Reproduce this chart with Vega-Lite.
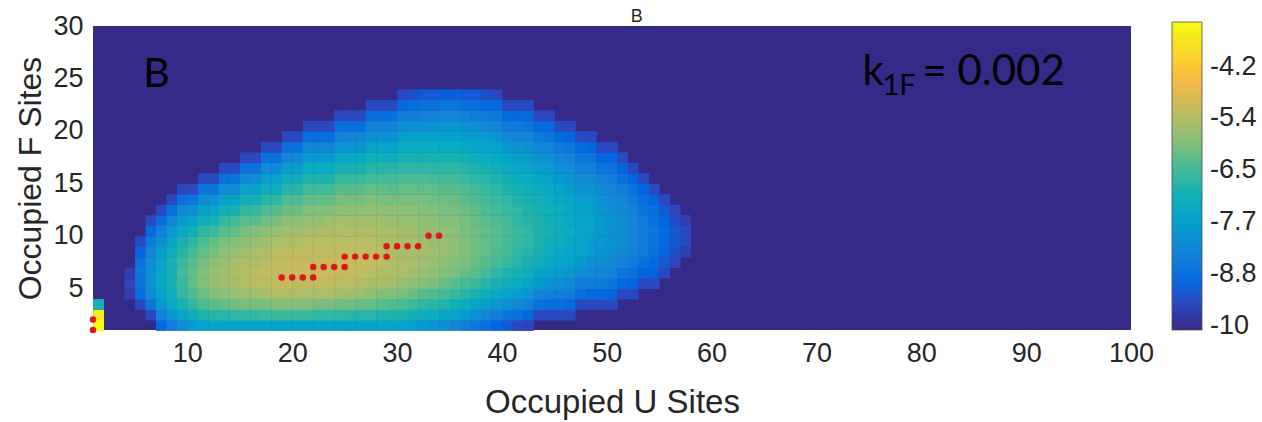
{
"$schema": "https://vega.github.io/schema/vega-lite/v6.json",
"width": 1038,
"height": 304,
"autosize": {"type": "none"},
"padding": {"left": 93, "top": 26, "right": 131, "bottom": 92},
"background": "white",
"config": {"view": {"fill": "#352A87", "stroke": null}, "font": "Liberation Sans"},
"datasets": {
"cells": [
{"u":1,"f":1,"v":-3.2},{"u":1,"f":2,"v":-3.4},{"u":1,"f":3,"v":-7.0},
{"u":4,"f":4,"v":-9.7},{"u":4,"f":5,"v":-9.6},{"u":4,"f":6,"v":-9.7},
{"u":5,"f":3,"v":-9.5},{"u":5,"f":4,"v":-8.9},{"u":5,"f":5,"v":-8.7},{"u":5,"f":6,"v":-8.7},{"u":5,"f":7,"v":-8.8},{"u":5,"f":8,"v":-9.1},{"u":5,"f":9,"v":-9.5},
{"u":6,"f":2,"v":-9.5},{"u":6,"f":3,"v":-8.7},{"u":6,"f":4,"v":-8.2},{"u":6,"f":5,"v":-8.0},{"u":6,"f":6,"v":-8.0},{"u":6,"f":7,"v":-8.1},{"u":6,"f":8,"v":-8.3},{"u":6,"f":9,"v":-8.6},{"u":6,"f":10,"v":-9.0},{"u":6,"f":11,"v":-9.5},
{"u":7,"f":1,"v":-9.0},{"u":7,"f":2,"v":-8.4},{"u":7,"f":3,"v":-7.9},{"u":7,"f":4,"v":-7.6},{"u":7,"f":5,"v":-7.4},{"u":7,"f":6,"v":-7.4},{"u":7,"f":7,"v":-7.5},{"u":7,"f":8,"v":-7.7},{"u":7,"f":9,"v":-8.0},{"u":7,"f":10,"v":-8.4},{"u":7,"f":11,"v":-8.9},{"u":7,"f":12,"v":-9.5},
{"u":8,"f":1,"v":-8.5},{"u":8,"f":2,"v":-7.9},{"u":8,"f":3,"v":-7.4},{"u":8,"f":4,"v":-7.1},{"u":8,"f":5,"v":-7.0},{"u":8,"f":6,"v":-7.0},{"u":8,"f":7,"v":-7.0},{"u":8,"f":8,"v":-7.2},{"u":8,"f":9,"v":-7.5},{"u":8,"f":10,"v":-7.8},{"u":8,"f":11,"v":-8.3},{"u":8,"f":12,"v":-8.8},{"u":8,"f":13,"v":-9.5},
{"u":9,"f":1,"v":-8.1},{"u":9,"f":2,"v":-7.5},{"u":9,"f":3,"v":-7.0},{"u":9,"f":4,"v":-6.7},{"u":9,"f":5,"v":-6.6},{"u":9,"f":6,"v":-6.5},{"u":9,"f":7,"v":-6.6},{"u":9,"f":8,"v":-6.8},{"u":9,"f":9,"v":-7.0},{"u":9,"f":10,"v":-7.4},{"u":9,"f":11,"v":-7.8},{"u":9,"f":12,"v":-8.2},{"u":9,"f":13,"v":-8.8},{"u":9,"f":14,"v":-9.5},
{"u":10,"f":1,"v":-7.8},{"u":10,"f":2,"v":-7.2},{"u":10,"f":3,"v":-6.7},{"u":10,"f":4,"v":-6.4},{"u":10,"f":5,"v":-6.2},{"u":10,"f":6,"v":-6.2},{"u":10,"f":7,"v":-6.3},{"u":10,"f":8,"v":-6.5},{"u":10,"f":9,"v":-6.7},{"u":10,"f":10,"v":-7.1},{"u":10,"f":11,"v":-7.6},{"u":10,"f":12,"v":-8.1},{"u":10,"f":13,"v":-8.7},{"u":10,"f":14,"v":-9.5},
{"u":11,"f":1,"v":-7.6},{"u":11,"f":2,"v":-6.9},{"u":11,"f":3,"v":-6.4},{"u":11,"f":4,"v":-6.1},{"u":11,"f":5,"v":-5.9},{"u":11,"f":6,"v":-5.9},{"u":11,"f":7,"v":-6.0},{"u":11,"f":8,"v":-6.2},{"u":11,"f":9,"v":-6.4},{"u":11,"f":10,"v":-6.7},{"u":11,"f":11,"v":-7.1},{"u":11,"f":12,"v":-7.6},{"u":11,"f":13,"v":-8.1},{"u":11,"f":14,"v":-8.7},{"u":11,"f":15,"v":-9.5},
{"u":12,"f":1,"v":-7.6},{"u":12,"f":2,"v":-6.8},{"u":12,"f":3,"v":-6.3},{"u":12,"f":4,"v":-5.9},{"u":12,"f":5,"v":-5.7},{"u":12,"f":6,"v":-5.7},{"u":12,"f":7,"v":-5.8},{"u":12,"f":8,"v":-6.0},{"u":12,"f":9,"v":-6.2},{"u":12,"f":10,"v":-6.6},{"u":12,"f":11,"v":-7.0},{"u":12,"f":12,"v":-7.5},{"u":12,"f":13,"v":-8.0},{"u":12,"f":14,"v":-8.7},{"u":12,"f":15,"v":-9.5},
{"u":13,"f":1,"v":-7.6},{"u":13,"f":2,"v":-6.8},{"u":13,"f":3,"v":-6.2},{"u":13,"f":4,"v":-5.8},{"u":13,"f":5,"v":-5.6},{"u":13,"f":6,"v":-5.6},{"u":13,"f":7,"v":-5.7},{"u":13,"f":8,"v":-5.8},{"u":13,"f":9,"v":-6.0},{"u":13,"f":10,"v":-6.3},{"u":13,"f":11,"v":-6.6},{"u":13,"f":12,"v":-7.1},{"u":13,"f":13,"v":-7.6},{"u":13,"f":14,"v":-8.1},{"u":13,"f":15,"v":-8.8},{"u":13,"f":16,"v":-9.5},
{"u":14,"f":1,"v":-7.6},{"u":14,"f":2,"v":-6.7},{"u":14,"f":3,"v":-6.1},{"u":14,"f":4,"v":-5.7},{"u":14,"f":5,"v":-5.5},{"u":14,"f":6,"v":-5.5},{"u":14,"f":7,"v":-5.5},{"u":14,"f":8,"v":-5.7},{"u":14,"f":9,"v":-5.9},{"u":14,"f":10,"v":-6.2},{"u":14,"f":11,"v":-6.5},{"u":14,"f":12,"v":-7.0},{"u":14,"f":13,"v":-7.5},{"u":14,"f":14,"v":-8.1},{"u":14,"f":15,"v":-8.7},{"u":14,"f":16,"v":-9.5},
{"u":15,"f":1,"v":-7.6},{"u":15,"f":2,"v":-6.7},{"u":15,"f":3,"v":-6.0},{"u":15,"f":4,"v":-5.6},{"u":15,"f":5,"v":-5.4},{"u":15,"f":6,"v":-5.4},{"u":15,"f":7,"v":-5.4},{"u":15,"f":8,"v":-5.6},{"u":15,"f":9,"v":-5.8},{"u":15,"f":10,"v":-6.0},{"u":15,"f":11,"v":-6.3},{"u":15,"f":12,"v":-6.7},{"u":15,"f":13,"v":-7.1},{"u":15,"f":14,"v":-7.6},{"u":15,"f":15,"v":-8.2},{"u":15,"f":16,"v":-8.8},{"u":15,"f":17,"v":-9.5},
{"u":16,"f":1,"v":-7.6},{"u":16,"f":2,"v":-6.7},{"u":16,"f":3,"v":-6.0},{"u":16,"f":4,"v":-5.6},{"u":16,"f":5,"v":-5.3},{"u":16,"f":6,"v":-5.3},{"u":16,"f":7,"v":-5.4},{"u":16,"f":8,"v":-5.5},{"u":16,"f":9,"v":-5.7},{"u":16,"f":10,"v":-5.9},{"u":16,"f":11,"v":-6.3},{"u":16,"f":12,"v":-6.6},{"u":16,"f":13,"v":-7.1},{"u":16,"f":14,"v":-7.6},{"u":16,"f":15,"v":-8.1},{"u":16,"f":16,"v":-8.8},{"u":16,"f":17,"v":-9.5},
{"u":17,"f":1,"v":-7.6},{"u":17,"f":2,"v":-6.6},{"u":17,"f":3,"v":-6.0},{"u":17,"f":4,"v":-5.5},{"u":17,"f":5,"v":-5.3},{"u":17,"f":6,"v":-5.2},{"u":17,"f":7,"v":-5.3},{"u":17,"f":8,"v":-5.4},{"u":17,"f":9,"v":-5.6},{"u":17,"f":10,"v":-5.8},{"u":17,"f":11,"v":-6.1},{"u":17,"f":12,"v":-6.4},{"u":17,"f":13,"v":-6.8},{"u":17,"f":14,"v":-7.2},{"u":17,"f":15,"v":-7.7},{"u":17,"f":16,"v":-8.2},{"u":17,"f":17,"v":-8.8},{"u":17,"f":18,"v":-9.5},
{"u":18,"f":1,"v":-7.6},{"u":18,"f":2,"v":-6.6},{"u":18,"f":3,"v":-5.9},{"u":18,"f":4,"v":-5.4},{"u":18,"f":5,"v":-5.2},{"u":18,"f":6,"v":-5.2},{"u":18,"f":7,"v":-5.2},{"u":18,"f":8,"v":-5.3},{"u":18,"f":9,"v":-5.5},{"u":18,"f":10,"v":-5.7},{"u":18,"f":11,"v":-6.0},{"u":18,"f":12,"v":-6.3},{"u":18,"f":13,"v":-6.7},{"u":18,"f":14,"v":-7.2},{"u":18,"f":15,"v":-7.6},{"u":18,"f":16,"v":-8.2},{"u":18,"f":17,"v":-8.8},{"u":18,"f":18,"v":-9.5},
{"u":19,"f":1,"v":-7.6},{"u":19,"f":2,"v":-6.6},{"u":19,"f":3,"v":-5.9},{"u":19,"f":4,"v":-5.4},{"u":19,"f":5,"v":-5.1},{"u":19,"f":6,"v":-5.1},{"u":19,"f":7,"v":-5.2},{"u":19,"f":8,"v":-5.2},{"u":19,"f":9,"v":-5.4},{"u":19,"f":10,"v":-5.6},{"u":19,"f":11,"v":-5.8},{"u":19,"f":12,"v":-6.1},{"u":19,"f":13,"v":-6.4},{"u":19,"f":14,"v":-6.8},{"u":19,"f":15,"v":-7.2},{"u":19,"f":16,"v":-7.7},{"u":19,"f":17,"v":-8.3},{"u":19,"f":18,"v":-8.8},{"u":19,"f":19,"v":-9.5},
{"u":20,"f":1,"v":-7.6},{"u":20,"f":2,"v":-6.6},{"u":20,"f":3,"v":-5.9},{"u":20,"f":4,"v":-5.4},{"u":20,"f":5,"v":-5.2},{"u":20,"f":6,"v":-5.1},{"u":20,"f":7,"v":-5.1},{"u":20,"f":8,"v":-5.2},{"u":20,"f":9,"v":-5.4},{"u":20,"f":10,"v":-5.6},{"u":20,"f":11,"v":-5.8},{"u":20,"f":12,"v":-6.1},{"u":20,"f":13,"v":-6.4},{"u":20,"f":14,"v":-6.8},{"u":20,"f":15,"v":-7.2},{"u":20,"f":16,"v":-7.7},{"u":20,"f":17,"v":-8.2},{"u":20,"f":18,"v":-8.8},{"u":20,"f":19,"v":-9.5},
{"u":21,"f":1,"v":-7.6},{"u":21,"f":2,"v":-6.6},{"u":21,"f":3,"v":-5.9},{"u":21,"f":4,"v":-5.5},{"u":21,"f":5,"v":-5.2},{"u":21,"f":6,"v":-5.1},{"u":21,"f":7,"v":-5.1},{"u":21,"f":8,"v":-5.2},{"u":21,"f":9,"v":-5.3},{"u":21,"f":10,"v":-5.5},{"u":21,"f":11,"v":-5.7},{"u":21,"f":12,"v":-5.9},{"u":21,"f":13,"v":-6.2},{"u":21,"f":14,"v":-6.5},{"u":21,"f":15,"v":-6.9},{"u":21,"f":16,"v":-7.3},{"u":21,"f":17,"v":-7.8},{"u":21,"f":18,"v":-8.3},{"u":21,"f":19,"v":-8.9},{"u":21,"f":20,"v":-9.5},
{"u":22,"f":1,"v":-7.6},{"u":22,"f":2,"v":-6.7},{"u":22,"f":3,"v":-6.0},{"u":22,"f":4,"v":-5.5},{"u":22,"f":5,"v":-5.2},{"u":22,"f":6,"v":-5.1},{"u":22,"f":7,"v":-5.1},{"u":22,"f":8,"v":-5.2},{"u":22,"f":9,"v":-5.3},{"u":22,"f":10,"v":-5.5},{"u":22,"f":11,"v":-5.7},{"u":22,"f":12,"v":-5.9},{"u":22,"f":13,"v":-6.2},{"u":22,"f":14,"v":-6.5},{"u":22,"f":15,"v":-6.9},{"u":22,"f":16,"v":-7.3},{"u":22,"f":17,"v":-7.8},{"u":22,"f":18,"v":-8.3},{"u":22,"f":19,"v":-8.9},{"u":22,"f":20,"v":-9.5},
{"u":23,"f":1,"v":-7.6},{"u":23,"f":2,"v":-6.7},{"u":23,"f":3,"v":-6.0},{"u":23,"f":4,"v":-5.5},{"u":23,"f":5,"v":-5.2},{"u":23,"f":6,"v":-5.1},{"u":23,"f":7,"v":-5.1},{"u":23,"f":8,"v":-5.2},{"u":23,"f":9,"v":-5.3},{"u":23,"f":10,"v":-5.4},{"u":23,"f":11,"v":-5.6},{"u":23,"f":12,"v":-5.9},{"u":23,"f":13,"v":-6.2},{"u":23,"f":14,"v":-6.5},{"u":23,"f":15,"v":-6.9},{"u":23,"f":16,"v":-7.3},{"u":23,"f":17,"v":-7.8},{"u":23,"f":18,"v":-8.3},{"u":23,"f":19,"v":-8.9},{"u":23,"f":20,"v":-9.5},
{"u":24,"f":1,"v":-7.6},{"u":24,"f":2,"v":-6.7},{"u":24,"f":3,"v":-6.1},{"u":24,"f":4,"v":-5.6},{"u":24,"f":5,"v":-5.3},{"u":24,"f":6,"v":-5.1},{"u":24,"f":7,"v":-5.1},{"u":24,"f":8,"v":-5.2},{"u":24,"f":9,"v":-5.3},{"u":24,"f":10,"v":-5.4},{"u":24,"f":11,"v":-5.5},{"u":24,"f":12,"v":-5.8},{"u":24,"f":13,"v":-6.0},{"u":24,"f":14,"v":-6.3},{"u":24,"f":15,"v":-6.6},{"u":24,"f":16,"v":-7.0},{"u":24,"f":17,"v":-7.4},{"u":24,"f":18,"v":-7.9},{"u":24,"f":19,"v":-8.4},{"u":24,"f":20,"v":-8.9},{"u":24,"f":21,"v":-9.5},
{"u":25,"f":1,"v":-7.6},{"u":25,"f":2,"v":-6.8},{"u":25,"f":3,"v":-6.1},{"u":25,"f":4,"v":-5.6},{"u":25,"f":5,"v":-5.3},{"u":25,"f":6,"v":-5.2},{"u":25,"f":7,"v":-5.1},{"u":25,"f":8,"v":-5.2},{"u":25,"f":9,"v":-5.3},{"u":25,"f":10,"v":-5.4},{"u":25,"f":11,"v":-5.6},{"u":25,"f":12,"v":-5.8},{"u":25,"f":13,"v":-6.0},{"u":25,"f":14,"v":-6.3},{"u":25,"f":15,"v":-6.6},{"u":25,"f":16,"v":-7.0},{"u":25,"f":17,"v":-7.4},{"u":25,"f":18,"v":-7.9},{"u":25,"f":19,"v":-8.3},{"u":25,"f":20,"v":-8.9},{"u":25,"f":21,"v":-9.5},
{"u":26,"f":1,"v":-7.6},{"u":26,"f":2,"v":-6.8},{"u":26,"f":3,"v":-6.2},{"u":26,"f":4,"v":-5.7},{"u":26,"f":5,"v":-5.4},{"u":26,"f":6,"v":-5.2},{"u":26,"f":7,"v":-5.2},{"u":26,"f":8,"v":-5.2},{"u":26,"f":9,"v":-5.3},{"u":26,"f":10,"v":-5.4},{"u":26,"f":11,"v":-5.6},{"u":26,"f":12,"v":-5.8},{"u":26,"f":13,"v":-6.0},{"u":26,"f":14,"v":-6.3},{"u":26,"f":15,"v":-6.6},{"u":26,"f":16,"v":-7.0},{"u":26,"f":17,"v":-7.4},{"u":26,"f":18,"v":-7.9},{"u":26,"f":19,"v":-8.3},{"u":26,"f":20,"v":-8.9},{"u":26,"f":21,"v":-9.5},
{"u":27,"f":1,"v":-7.6},{"u":27,"f":2,"v":-6.8},{"u":27,"f":3,"v":-6.2},{"u":27,"f":4,"v":-5.8},{"u":27,"f":5,"v":-5.5},{"u":27,"f":6,"v":-5.3},{"u":27,"f":7,"v":-5.2},{"u":27,"f":8,"v":-5.3},{"u":27,"f":9,"v":-5.3},{"u":27,"f":10,"v":-5.4},{"u":27,"f":11,"v":-5.6},{"u":27,"f":12,"v":-5.7},{"u":27,"f":13,"v":-5.9},{"u":27,"f":14,"v":-6.2},{"u":27,"f":15,"v":-6.5},{"u":27,"f":16,"v":-6.8},{"u":27,"f":17,"v":-7.1},{"u":27,"f":18,"v":-7.5},{"u":27,"f":19,"v":-8.0},{"u":27,"f":20,"v":-8.4},{"u":27,"f":21,"v":-8.9},{"u":27,"f":22,"v":-9.5},
{"u":28,"f":1,"v":-7.6},{"u":28,"f":2,"v":-6.9},{"u":28,"f":3,"v":-6.3},{"u":28,"f":4,"v":-5.9},{"u":28,"f":5,"v":-5.5},{"u":28,"f":6,"v":-5.4},{"u":28,"f":7,"v":-5.3},{"u":28,"f":8,"v":-5.3},{"u":28,"f":9,"v":-5.4},{"u":28,"f":10,"v":-5.5},{"u":28,"f":11,"v":-5.6},{"u":28,"f":12,"v":-5.8},{"u":28,"f":13,"v":-6.0},{"u":28,"f":14,"v":-6.2},{"u":28,"f":15,"v":-6.5},{"u":28,"f":16,"v":-6.8},{"u":28,"f":17,"v":-7.2},{"u":28,"f":18,"v":-7.5},{"u":28,"f":19,"v":-8.0},{"u":28,"f":20,"v":-8.4},{"u":28,"f":21,"v":-8.9},{"u":28,"f":22,"v":-9.5},
{"u":29,"f":1,"v":-7.6},{"u":29,"f":2,"v":-6.9},{"u":29,"f":3,"v":-6.4},{"u":29,"f":4,"v":-5.9},{"u":29,"f":5,"v":-5.6},{"u":29,"f":6,"v":-5.4},{"u":29,"f":7,"v":-5.4},{"u":29,"f":8,"v":-5.4},{"u":29,"f":9,"v":-5.4},{"u":29,"f":10,"v":-5.5},{"u":29,"f":11,"v":-5.7},{"u":29,"f":12,"v":-5.8},{"u":29,"f":13,"v":-6.0},{"u":29,"f":14,"v":-6.3},{"u":29,"f":15,"v":-6.5},{"u":29,"f":16,"v":-6.8},{"u":29,"f":17,"v":-7.2},{"u":29,"f":18,"v":-7.6},{"u":29,"f":19,"v":-8.0},{"u":29,"f":20,"v":-8.4},{"u":29,"f":21,"v":-8.9},{"u":29,"f":22,"v":-9.5},
{"u":30,"f":1,"v":-7.6},{"u":30,"f":2,"v":-6.9},{"u":30,"f":3,"v":-6.4},{"u":30,"f":4,"v":-6.0},{"u":30,"f":5,"v":-5.7},{"u":30,"f":6,"v":-5.5},{"u":30,"f":7,"v":-5.4},{"u":30,"f":8,"v":-5.5},{"u":30,"f":9,"v":-5.5},{"u":30,"f":10,"v":-5.6},{"u":30,"f":11,"v":-5.7},{"u":30,"f":12,"v":-5.8},{"u":30,"f":13,"v":-6.0},{"u":30,"f":14,"v":-6.2},{"u":30,"f":15,"v":-6.4},{"u":30,"f":16,"v":-6.7},{"u":30,"f":17,"v":-7.0},{"u":30,"f":18,"v":-7.3},{"u":30,"f":19,"v":-7.7},{"u":30,"f":20,"v":-8.1},{"u":30,"f":21,"v":-8.5},{"u":30,"f":22,"v":-9.0},{"u":30,"f":23,"v":-9.5},
{"u":31,"f":1,"v":-7.7},{"u":31,"f":2,"v":-7.1},{"u":31,"f":3,"v":-6.6},{"u":31,"f":4,"v":-6.1},{"u":31,"f":5,"v":-5.8},{"u":31,"f":6,"v":-5.6},{"u":31,"f":7,"v":-5.5},{"u":31,"f":8,"v":-5.5},{"u":31,"f":9,"v":-5.5},{"u":31,"f":10,"v":-5.6},{"u":31,"f":11,"v":-5.7},{"u":31,"f":12,"v":-5.8},{"u":31,"f":13,"v":-6.0},{"u":31,"f":14,"v":-6.2},{"u":31,"f":15,"v":-6.4},{"u":31,"f":16,"v":-6.7},{"u":31,"f":17,"v":-7.0},{"u":31,"f":18,"v":-7.3},{"u":31,"f":19,"v":-7.6},{"u":31,"f":20,"v":-8.0},{"u":31,"f":21,"v":-8.5},{"u":31,"f":22,"v":-8.9},{"u":31,"f":23,"v":-9.4},
{"u":32,"f":1,"v":-7.8},{"u":32,"f":2,"v":-7.2},{"u":32,"f":3,"v":-6.7},{"u":32,"f":4,"v":-6.3},{"u":32,"f":5,"v":-5.9},{"u":32,"f":6,"v":-5.7},{"u":32,"f":7,"v":-5.6},{"u":32,"f":8,"v":-5.6},{"u":32,"f":9,"v":-5.6},{"u":32,"f":10,"v":-5.7},{"u":32,"f":11,"v":-5.8},{"u":32,"f":12,"v":-5.9},{"u":32,"f":13,"v":-6.0},{"u":32,"f":14,"v":-6.2},{"u":32,"f":15,"v":-6.4},{"u":32,"f":16,"v":-6.7},{"u":32,"f":17,"v":-7.0},{"u":32,"f":18,"v":-7.3},{"u":32,"f":19,"v":-7.6},{"u":32,"f":20,"v":-8.0},{"u":32,"f":21,"v":-8.4},{"u":32,"f":22,"v":-8.8},{"u":32,"f":23,"v":-9.3},
{"u":33,"f":1,"v":-8.0},{"u":33,"f":2,"v":-7.3},{"u":33,"f":3,"v":-6.8},{"u":33,"f":4,"v":-6.4},{"u":33,"f":5,"v":-6.0},{"u":33,"f":6,"v":-5.8},{"u":33,"f":7,"v":-5.7},{"u":33,"f":8,"v":-5.6},{"u":33,"f":9,"v":-5.7},{"u":33,"f":10,"v":-5.7},{"u":33,"f":11,"v":-5.8},{"u":33,"f":12,"v":-5.9},{"u":33,"f":13,"v":-6.1},{"u":33,"f":14,"v":-6.2},{"u":33,"f":15,"v":-6.5},{"u":33,"f":16,"v":-6.7},{"u":33,"f":17,"v":-7.0},{"u":33,"f":18,"v":-7.3},{"u":33,"f":19,"v":-7.6},{"u":33,"f":20,"v":-8.0},{"u":33,"f":21,"v":-8.4},{"u":33,"f":22,"v":-8.8},{"u":33,"f":23,"v":-9.3},
{"u":34,"f":1,"v":-8.1},{"u":34,"f":2,"v":-7.5},{"u":34,"f":3,"v":-6.9},{"u":34,"f":4,"v":-6.5},{"u":34,"f":5,"v":-6.2},{"u":34,"f":6,"v":-5.9},{"u":34,"f":7,"v":-5.8},{"u":34,"f":8,"v":-5.7},{"u":34,"f":9,"v":-5.7},{"u":34,"f":10,"v":-5.8},{"u":34,"f":11,"v":-5.9},{"u":34,"f":12,"v":-6.0},{"u":34,"f":13,"v":-6.1},{"u":34,"f":14,"v":-6.3},{"u":34,"f":15,"v":-6.5},{"u":34,"f":16,"v":-6.7},{"u":34,"f":17,"v":-7.0},{"u":34,"f":18,"v":-7.3},{"u":34,"f":19,"v":-7.6},{"u":34,"f":20,"v":-7.9},{"u":34,"f":21,"v":-8.3},{"u":34,"f":22,"v":-8.7},{"u":34,"f":23,"v":-9.2},
{"u":35,"f":1,"v":-8.3},{"u":35,"f":2,"v":-7.6},{"u":35,"f":3,"v":-7.1},{"u":35,"f":4,"v":-6.6},{"u":35,"f":5,"v":-6.3},{"u":35,"f":6,"v":-6.0},{"u":35,"f":7,"v":-5.9},{"u":35,"f":8,"v":-5.8},{"u":35,"f":9,"v":-5.8},{"u":35,"f":10,"v":-5.8},{"u":35,"f":11,"v":-5.9},{"u":35,"f":12,"v":-6.0},{"u":35,"f":13,"v":-6.1},{"u":35,"f":14,"v":-6.3},{"u":35,"f":15,"v":-6.5},{"u":35,"f":16,"v":-6.7},{"u":35,"f":17,"v":-7.0},{"u":35,"f":18,"v":-7.3},{"u":35,"f":19,"v":-7.6},{"u":35,"f":20,"v":-7.9},{"u":35,"f":21,"v":-8.3},{"u":35,"f":22,"v":-8.7},{"u":35,"f":23,"v":-9.2},
{"u":36,"f":1,"v":-8.5},{"u":36,"f":2,"v":-7.8},{"u":36,"f":3,"v":-7.3},{"u":36,"f":4,"v":-6.8},{"u":36,"f":5,"v":-6.5},{"u":36,"f":6,"v":-6.2},{"u":36,"f":7,"v":-6.0},{"u":36,"f":8,"v":-5.9},{"u":36,"f":9,"v":-5.9},{"u":36,"f":10,"v":-6.0},{"u":36,"f":11,"v":-6.0},{"u":36,"f":12,"v":-6.1},{"u":36,"f":13,"v":-6.3},{"u":36,"f":14,"v":-6.4},{"u":36,"f":15,"v":-6.6},{"u":36,"f":16,"v":-6.8},{"u":36,"f":17,"v":-7.1},{"u":36,"f":18,"v":-7.4},{"u":36,"f":19,"v":-7.7},{"u":36,"f":20,"v":-8.0},{"u":36,"f":21,"v":-8.4},{"u":36,"f":22,"v":-8.8},{"u":36,"f":23,"v":-9.3},
{"u":37,"f":1,"v":-8.7},{"u":37,"f":2,"v":-8.0},{"u":37,"f":3,"v":-7.5},{"u":37,"f":4,"v":-7.0},{"u":37,"f":5,"v":-6.6},{"u":37,"f":6,"v":-6.3},{"u":37,"f":7,"v":-6.2},{"u":37,"f":8,"v":-6.1},{"u":37,"f":9,"v":-6.1},{"u":37,"f":10,"v":-6.1},{"u":37,"f":11,"v":-6.2},{"u":37,"f":12,"v":-6.2},{"u":37,"f":13,"v":-6.4},{"u":37,"f":14,"v":-6.5},{"u":37,"f":15,"v":-6.7},{"u":37,"f":16,"v":-6.9},{"u":37,"f":17,"v":-7.2},{"u":37,"f":18,"v":-7.5},{"u":37,"f":19,"v":-7.8},{"u":37,"f":20,"v":-8.1},{"u":37,"f":21,"v":-8.5},{"u":37,"f":22,"v":-8.9},{"u":37,"f":23,"v":-9.3},
{"u":38,"f":1,"v":-8.9},{"u":38,"f":2,"v":-8.3},{"u":38,"f":3,"v":-7.7},{"u":38,"f":4,"v":-7.2},{"u":38,"f":5,"v":-6.8},{"u":38,"f":6,"v":-6.5},{"u":38,"f":7,"v":-6.3},{"u":38,"f":8,"v":-6.2},{"u":38,"f":9,"v":-6.2},{"u":38,"f":10,"v":-6.2},{"u":38,"f":11,"v":-6.3},{"u":38,"f":12,"v":-6.4},{"u":38,"f":13,"v":-6.5},{"u":38,"f":14,"v":-6.6},{"u":38,"f":15,"v":-6.8},{"u":38,"f":16,"v":-7.0},{"u":38,"f":17,"v":-7.3},{"u":38,"f":18,"v":-7.5},{"u":38,"f":19,"v":-7.8},{"u":38,"f":20,"v":-8.2},{"u":38,"f":21,"v":-8.6},{"u":38,"f":22,"v":-9.0},{"u":38,"f":23,"v":-9.4},
{"u":39,"f":1,"v":-9.1},{"u":39,"f":2,"v":-8.5},{"u":39,"f":3,"v":-7.9},{"u":39,"f":4,"v":-7.4},{"u":39,"f":5,"v":-7.0},{"u":39,"f":6,"v":-6.7},{"u":39,"f":7,"v":-6.5},{"u":39,"f":8,"v":-6.4},{"u":39,"f":9,"v":-6.3},{"u":39,"f":10,"v":-6.3},{"u":39,"f":11,"v":-6.4},{"u":39,"f":12,"v":-6.5},{"u":39,"f":13,"v":-6.6},{"u":39,"f":14,"v":-6.7},{"u":39,"f":15,"v":-6.9},{"u":39,"f":16,"v":-7.1},{"u":39,"f":17,"v":-7.4},{"u":39,"f":18,"v":-7.6},{"u":39,"f":19,"v":-7.9},{"u":39,"f":20,"v":-8.3},{"u":39,"f":21,"v":-8.6},{"u":39,"f":22,"v":-9.0},{"u":39,"f":23,"v":-9.5},
{"u":40,"f":1,"v":-9.3},{"u":40,"f":2,"v":-8.7},{"u":40,"f":3,"v":-8.1},{"u":40,"f":4,"v":-7.6},{"u":40,"f":5,"v":-7.2},{"u":40,"f":6,"v":-6.9},{"u":40,"f":7,"v":-6.6},{"u":40,"f":8,"v":-6.5},{"u":40,"f":9,"v":-6.5},{"u":40,"f":10,"v":-6.5},{"u":40,"f":11,"v":-6.5},{"u":40,"f":12,"v":-6.6},{"u":40,"f":13,"v":-6.7},{"u":40,"f":14,"v":-6.9},{"u":40,"f":15,"v":-7.1},{"u":40,"f":16,"v":-7.3},{"u":40,"f":17,"v":-7.6},{"u":40,"f":18,"v":-7.9},{"u":40,"f":19,"v":-8.2},{"u":40,"f":20,"v":-8.6},{"u":40,"f":21,"v":-9.0},{"u":40,"f":22,"v":-9.5},
{"u":41,"f":1,"v":-9.5},{"u":41,"f":2,"v":-8.8},{"u":41,"f":3,"v":-8.2},{"u":41,"f":4,"v":-7.7},{"u":41,"f":5,"v":-7.3},{"u":41,"f":6,"v":-7.0},{"u":41,"f":7,"v":-6.8},{"u":41,"f":8,"v":-6.7},{"u":41,"f":9,"v":-6.6},{"u":41,"f":10,"v":-6.6},{"u":41,"f":11,"v":-6.7},{"u":41,"f":12,"v":-6.7},{"u":41,"f":13,"v":-6.9},{"u":41,"f":14,"v":-7.0},{"u":41,"f":15,"v":-7.2},{"u":41,"f":16,"v":-7.4},{"u":41,"f":17,"v":-7.7},{"u":41,"f":18,"v":-7.9},{"u":41,"f":19,"v":-8.3},{"u":41,"f":20,"v":-8.6},{"u":41,"f":21,"v":-9.0},{"u":41,"f":22,"v":-9.5},
{"u":42,"f":1,"v":-9.6},{"u":42,"f":2,"v":-9.0},{"u":42,"f":3,"v":-8.4},{"u":42,"f":4,"v":-7.9},{"u":42,"f":5,"v":-7.5},{"u":42,"f":6,"v":-7.2},{"u":42,"f":7,"v":-7.0},{"u":42,"f":8,"v":-6.8},{"u":42,"f":9,"v":-6.7},{"u":42,"f":10,"v":-6.7},{"u":42,"f":11,"v":-6.8},{"u":42,"f":12,"v":-6.9},{"u":42,"f":13,"v":-7.0},{"u":42,"f":14,"v":-7.1},{"u":42,"f":15,"v":-7.3},{"u":42,"f":16,"v":-7.5},{"u":42,"f":17,"v":-7.7},{"u":42,"f":18,"v":-8.0},{"u":42,"f":19,"v":-8.3},{"u":42,"f":20,"v":-8.7},{"u":42,"f":21,"v":-9.0},{"u":42,"f":22,"v":-9.5},
{"u":43,"f":2,"v":-9.5},{"u":43,"f":3,"v":-8.8},{"u":43,"f":4,"v":-8.3},{"u":43,"f":5,"v":-7.8},{"u":43,"f":6,"v":-7.5},{"u":43,"f":7,"v":-7.2},{"u":43,"f":8,"v":-7.0},{"u":43,"f":9,"v":-6.9},{"u":43,"f":10,"v":-6.9},{"u":43,"f":11,"v":-6.9},{"u":43,"f":12,"v":-7.0},{"u":43,"f":13,"v":-7.1},{"u":43,"f":14,"v":-7.3},{"u":43,"f":15,"v":-7.5},{"u":43,"f":16,"v":-7.7},{"u":43,"f":17,"v":-8.0},{"u":43,"f":18,"v":-8.3},{"u":43,"f":19,"v":-8.6},{"u":43,"f":20,"v":-9.0},{"u":43,"f":21,"v":-9.5},
{"u":44,"f":2,"v":-9.5},{"u":44,"f":3,"v":-8.9},{"u":44,"f":4,"v":-8.4},{"u":44,"f":5,"v":-8.0},{"u":44,"f":6,"v":-7.6},{"u":44,"f":7,"v":-7.4},{"u":44,"f":8,"v":-7.2},{"u":44,"f":9,"v":-7.1},{"u":44,"f":10,"v":-7.0},{"u":44,"f":11,"v":-7.1},{"u":44,"f":12,"v":-7.1},{"u":44,"f":13,"v":-7.2},{"u":44,"f":14,"v":-7.4},{"u":44,"f":15,"v":-7.6},{"u":44,"f":16,"v":-7.8},{"u":44,"f":17,"v":-8.0},{"u":44,"f":18,"v":-8.3},{"u":44,"f":19,"v":-8.7},{"u":44,"f":20,"v":-9.0},{"u":44,"f":21,"v":-9.5},
{"u":45,"f":2,"v":-9.5},{"u":45,"f":3,"v":-8.9},{"u":45,"f":4,"v":-8.5},{"u":45,"f":5,"v":-8.1},{"u":45,"f":6,"v":-7.8},{"u":45,"f":7,"v":-7.5},{"u":45,"f":8,"v":-7.4},{"u":45,"f":9,"v":-7.2},{"u":45,"f":10,"v":-7.2},{"u":45,"f":11,"v":-7.2},{"u":45,"f":12,"v":-7.3},{"u":45,"f":13,"v":-7.4},{"u":45,"f":14,"v":-7.6},{"u":45,"f":15,"v":-7.8},{"u":45,"f":16,"v":-8.0},{"u":45,"f":17,"v":-8.3},{"u":45,"f":18,"v":-8.6},{"u":45,"f":19,"v":-9.0},{"u":45,"f":20,"v":-9.5},
{"u":46,"f":2,"v":-9.5},{"u":46,"f":3,"v":-9.0},{"u":46,"f":4,"v":-8.5},{"u":46,"f":5,"v":-8.2},{"u":46,"f":6,"v":-7.9},{"u":46,"f":7,"v":-7.6},{"u":46,"f":8,"v":-7.5},{"u":46,"f":9,"v":-7.4},{"u":46,"f":10,"v":-7.3},{"u":46,"f":11,"v":-7.4},{"u":46,"f":12,"v":-7.4},{"u":46,"f":13,"v":-7.5},{"u":46,"f":14,"v":-7.7},{"u":46,"f":15,"v":-7.9},{"u":46,"f":16,"v":-8.1},{"u":46,"f":17,"v":-8.4},{"u":46,"f":18,"v":-8.7},{"u":46,"f":19,"v":-9.1},{"u":46,"f":20,"v":-9.5},
{"u":47,"f":3,"v":-9.5},{"u":47,"f":4,"v":-8.9},{"u":47,"f":5,"v":-8.5},{"u":47,"f":6,"v":-8.1},{"u":47,"f":7,"v":-7.8},{"u":47,"f":8,"v":-7.6},{"u":47,"f":9,"v":-7.5},{"u":47,"f":10,"v":-7.5},{"u":47,"f":11,"v":-7.5},{"u":47,"f":12,"v":-7.6},{"u":47,"f":13,"v":-7.7},{"u":47,"f":14,"v":-7.9},{"u":47,"f":15,"v":-8.1},{"u":47,"f":16,"v":-8.4},{"u":47,"f":17,"v":-8.7},{"u":47,"f":18,"v":-9.0},{"u":47,"f":19,"v":-9.5},
{"u":48,"f":3,"v":-9.5},{"u":48,"f":4,"v":-9.0},{"u":48,"f":5,"v":-8.6},{"u":48,"f":6,"v":-8.2},{"u":48,"f":7,"v":-8.0},{"u":48,"f":8,"v":-7.8},{"u":48,"f":9,"v":-7.7},{"u":48,"f":10,"v":-7.6},{"u":48,"f":11,"v":-7.6},{"u":48,"f":12,"v":-7.7},{"u":48,"f":13,"v":-7.8},{"u":48,"f":14,"v":-8.0},{"u":48,"f":15,"v":-8.2},{"u":48,"f":16,"v":-8.4},{"u":48,"f":17,"v":-8.7},{"u":48,"f":18,"v":-9.1},{"u":48,"f":19,"v":-9.5},
{"u":49,"f":3,"v":-9.5},{"u":49,"f":4,"v":-9.0},{"u":49,"f":5,"v":-8.6},{"u":49,"f":6,"v":-8.3},{"u":49,"f":7,"v":-8.1},{"u":49,"f":8,"v":-7.9},{"u":49,"f":9,"v":-7.8},{"u":49,"f":10,"v":-7.8},{"u":49,"f":11,"v":-7.8},{"u":49,"f":12,"v":-7.9},{"u":49,"f":13,"v":-8.0},{"u":49,"f":14,"v":-8.2},{"u":49,"f":15,"v":-8.4},{"u":49,"f":16,"v":-8.7},{"u":49,"f":17,"v":-9.1},{"u":49,"f":18,"v":-9.5},
{"u":50,"f":3,"v":-9.5},{"u":50,"f":4,"v":-9.1},{"u":50,"f":5,"v":-8.7},{"u":50,"f":6,"v":-8.4},{"u":50,"f":7,"v":-8.2},{"u":50,"f":8,"v":-8.1},{"u":50,"f":9,"v":-8.0},{"u":50,"f":10,"v":-8.0},{"u":50,"f":11,"v":-8.0},{"u":50,"f":12,"v":-8.1},{"u":50,"f":13,"v":-8.2},{"u":50,"f":14,"v":-8.3},{"u":50,"f":15,"v":-8.5},{"u":50,"f":16,"v":-8.8},{"u":50,"f":17,"v":-9.1},{"u":50,"f":18,"v":-9.5},
{"u":51,"f":4,"v":-9.5},{"u":51,"f":5,"v":-9.0},{"u":51,"f":6,"v":-8.7},{"u":51,"f":7,"v":-8.4},{"u":51,"f":8,"v":-8.2},{"u":51,"f":9,"v":-8.1},{"u":51,"f":10,"v":-8.1},{"u":51,"f":11,"v":-8.1},{"u":51,"f":12,"v":-8.2},{"u":51,"f":13,"v":-8.3},{"u":51,"f":14,"v":-8.5},{"u":51,"f":15,"v":-8.8},{"u":51,"f":16,"v":-9.1},{"u":51,"f":17,"v":-9.5},
{"u":52,"f":4,"v":-9.5},{"u":52,"f":5,"v":-9.1},{"u":52,"f":6,"v":-8.8},{"u":52,"f":7,"v":-8.6},{"u":52,"f":8,"v":-8.4},{"u":52,"f":9,"v":-8.3},{"u":52,"f":10,"v":-8.3},{"u":52,"f":11,"v":-8.3},{"u":52,"f":12,"v":-8.4},{"u":52,"f":13,"v":-8.6},{"u":52,"f":14,"v":-8.8},{"u":52,"f":15,"v":-9.1},{"u":52,"f":16,"v":-9.5},
{"u":53,"f":5,"v":-9.5},{"u":53,"f":6,"v":-9.1},{"u":53,"f":7,"v":-8.8},{"u":53,"f":8,"v":-8.6},{"u":53,"f":9,"v":-8.5},{"u":53,"f":10,"v":-8.5},{"u":53,"f":11,"v":-8.6},{"u":53,"f":12,"v":-8.7},{"u":53,"f":13,"v":-8.9},{"u":53,"f":14,"v":-9.1},{"u":53,"f":15,"v":-9.5},
{"u":54,"f":5,"v":-9.5},{"u":54,"f":6,"v":-9.2},{"u":54,"f":7,"v":-9.0},{"u":54,"f":8,"v":-8.8},{"u":54,"f":9,"v":-8.7},{"u":54,"f":10,"v":-8.7},{"u":54,"f":11,"v":-8.8},{"u":54,"f":12,"v":-8.9},{"u":54,"f":13,"v":-9.1},{"u":54,"f":14,"v":-9.5},
{"u":55,"f":6,"v":-9.5},{"u":55,"f":7,"v":-9.3},{"u":55,"f":8,"v":-9.1},{"u":55,"f":9,"v":-9.0},{"u":55,"f":10,"v":-9.0},{"u":55,"f":11,"v":-9.1},{"u":55,"f":12,"v":-9.3},{"u":55,"f":13,"v":-9.5},
{"u":56,"f":7,"v":-9.6},{"u":56,"f":8,"v":-9.4},{"u":56,"f":9,"v":-9.3},{"u":56,"f":10,"v":-9.3},{"u":56,"f":11,"v":-9.4},{"u":56,"f":12,"v":-9.6},
{"u":57,"f":8,"v":-9.7},{"u":57,"f":9,"v":-9.5},{"u":57,"f":10,"v":-9.5},{"u":57,"f":11,"v":-9.7}
],
"dots": [
{"u":1,"f":1},{"u":1,"f":2},
{"u":19,"f":6},{"u":20,"f":6},{"u":21,"f":6},{"u":22,"f":6},
{"u":22,"f":7},{"u":23,"f":7},{"u":24,"f":7},{"u":25,"f":7},
{"u":25,"f":8},{"u":26,"f":8},{"u":27,"f":8},{"u":28,"f":8},{"u":29,"f":8},
{"u":29,"f":9},{"u":30,"f":9},{"u":31,"f":9},{"u":32,"f":9},
{"u":33,"f":10},{"u":34,"f":10}
]
},
"layer": [
{
"data": {"name": "cells"},
"mark": {"type": "rect", "binSpacing": 0, "x2Offset": -0.4, "y2Offset": 0.4},
"encoding": {
"x": {"field": "u", "type": "quantitative", "bin": {"binned": true, "step": 1}, "title": "Occupied U Sites",
"scale": {"domain": [1, 100], "nice": false, "zero": false},
"axis": {"values": [10,20,30,40,50,60,70,80,90,100], "domain": false, "ticks": false, "grid": false, "labelFontSize": 27, "titleFontSize": 33, "labelPadding": 10, "titlePadding": 20, "labelFlush": false, "labelColor": "#262626", "titleColor": "#262626", "titleFontWeight": "normal", "labelFont": "Liberation Sans", "titleFont": "Liberation Sans"}},
"y": {"field": "f", "type": "quantitative", "bin": {"binned": true, "step": 1}, "title": "Occupied F Sites",
"scale": {"domain": [1, 30], "nice": false, "zero": false},
"axis": {"values": [5,10,15,20,25,30], "domain": false, "ticks": false, "grid": false, "labelFontSize": 27, "titleFontSize": 32, "labelPadding": 10, "titlePadding": 5, "labelFlush": false, "labelColor": "#262626", "titleColor": "#262626", "titleFontWeight": "normal", "labelFont": "Liberation Sans", "titleFont": "Liberation Sans"}},
"color": {"field": "v", "type": "quantitative",
"scale": {"domain": [-10.1,-9.575,-9.15,-8.725,-8.3,-7.875,-7.45,-7.025,-6.6,-6.175,-5.75,-5.325,-4.9,-4.475,-4.05,-3.625,-3.2],
"range": ["#352A87","#3243BA","#0363E1","#0D75DC","#1485D4","#0998D1","#06A7C6","#15B1B4","#38B99E","#65BE86","#92BF73","#B7BD64","#D9BA56","#F8BB44","#FCCE2E","#F5E41D","#F9FB0E"],
"interpolate": "rgb", "clamp": true},
"legend": {"type": "gradient", "orient": "none", "legendX": 1079, "legendY": -4, "direction": "vertical", "gradientLength": 308, "gradientThickness": 30, "title": null,
"values": [-10, -8.84, -7.68, -6.52, -5.36, -4.2],
"labelExpr": "datum.value <= -9.99 ? '-10' : '-' + format(-datum.value, '.1f')",
"labelFontSize": 27, "labelFont": "Liberation Sans", "labelColor": "#262626", "labelOffset": 8, "labelOverlap": false, "labelBaseline": "middle",
"gradientStrokeColor": "#4d4d4d", "gradientStrokeWidth": 0.8}}
}
},
{
"data": {"name": "dots"},
"mark": {"type": "point", "filled": true, "color": "#e2141c", "size": 42, "opacity": 1},
"encoding": {
"x": {"field": "u", "type": "quantitative", "title": "Occupied U Sites"},
"y": {"field": "f", "type": "quantitative", "title": "Occupied F Sites"}
}
},
{
"data": {"values": [{}]},
"mark": {"type": "text", "text": "B", "font": "Lato", "fontSize": 41, "align": "left", "baseline": "alphabetic", "color": "#000000"},
"encoding": {"x": {"datum": 5.8, "type": "quantitative"}, "y": {"datum": 24.2, "type": "quantitative"}}
},
{
"data": {"values": [{}]},
"mark": {"type": "text", "text": "k", "font": "Lato", "fontSize": 42, "align": "left", "baseline": "alphabetic", "color": "#000000"},
"encoding": {"x": {"datum": 74.4, "type": "quantitative"}, "y": {"datum": 24.37, "type": "quantitative"}}
},
{
"data": {"values": [{}]},
"mark": {"type": "text", "text": "1F", "font": "Lato", "fontSize": 29, "align": "left", "baseline": "alphabetic", "color": "#000000"},
"encoding": {"x": {"datum": 76.3, "type": "quantitative"}, "y": {"datum": 23.42, "type": "quantitative"}}
},
{
"data": {"values": [{}]},
"mark": {"type": "text", "text": "= 0.002", "font": "Lato", "fontSize": 42, "align": "left", "baseline": "alphabetic", "color": "#000000"},
"encoding": {"x": {"datum": 80.1, "type": "quantitative"}, "y": {"datum": 24.37, "type": "quantitative"}}
},
{
"data": {"values": [{}]},
"mark": {"type": "text", "text": "B", "font": "Liberation Sans", "fontSize": 18, "align": "left", "baseline": "alphabetic", "color": "#262626"},
"encoding": {"x": {"datum": 52.3, "type": "quantitative"}, "y": {"datum": 30.4, "type": "quantitative"}}
}
]
}
